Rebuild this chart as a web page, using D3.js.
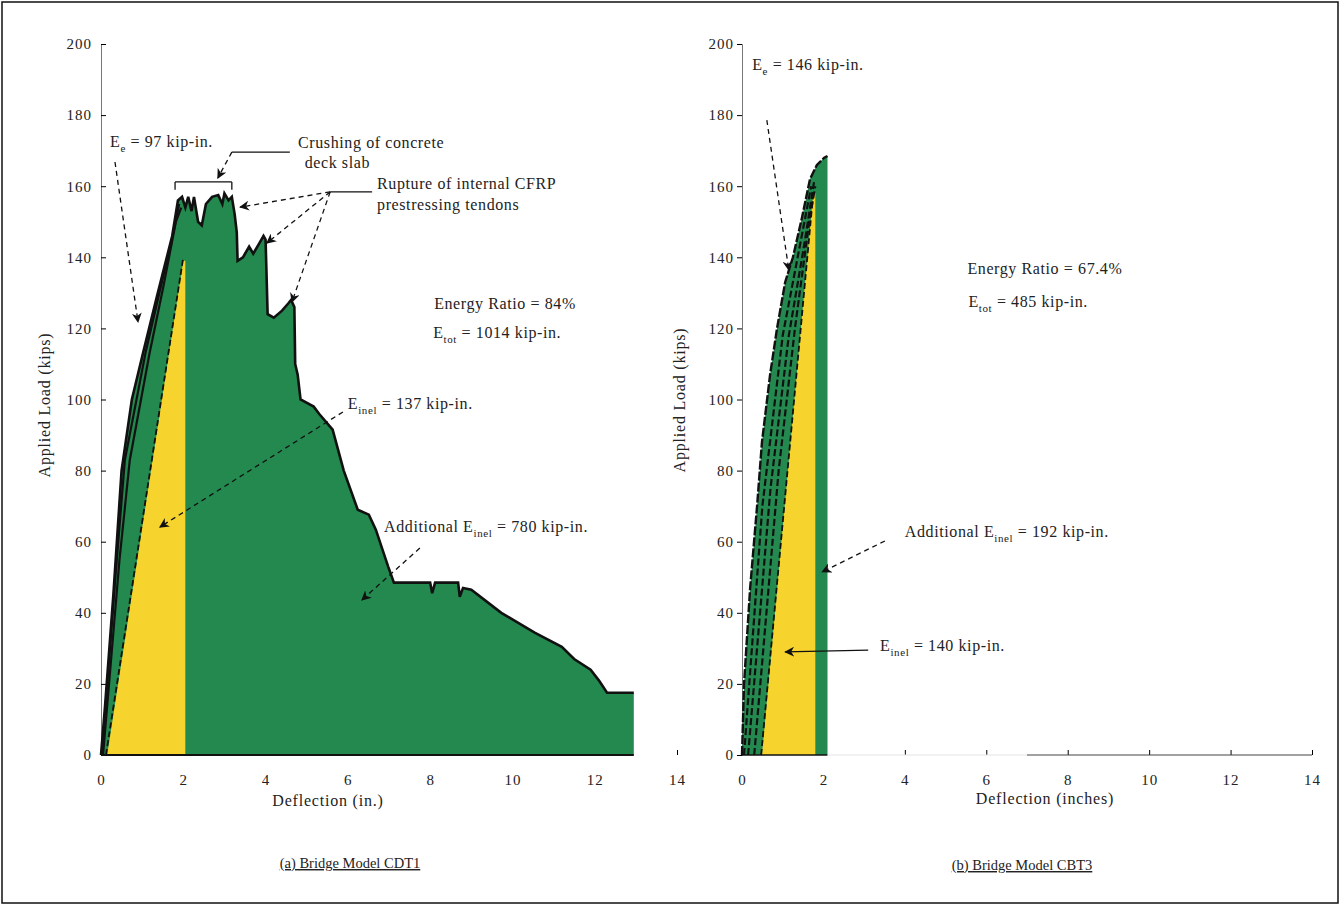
<!DOCTYPE html>
<html>
<head>
<meta charset="utf-8">
<script src="https://cdn.jsdelivr.net/npm/d3@7"></script>
<style>
  body { margin: 0; background: #fff; }
  text { font-family: "Liberation Serif", "DejaVu Serif", serif; fill: #222; }
  .tick text { font-size: 15px; letter-spacing: 1px; }
  .note { font-size: 16px; letter-spacing: 0.6px; }
  .axisText { font-size: 16px; letter-spacing: 0.8px; }
  .caption { font-size: 14.5px; }
</style>
</head>
<body>
<div id="chart"></div>
<script>
// tick values shared by both panels
var xTicks = [0, 2, 4, 6, 8, 10, 12, 14];
var yTicks = [0, 20, 40, 60, 80, 100, 120, 140, 160, 180, 200];

// (a) Bridge Model CDT1 -- [deflection (in.), load (kips)]
var cdt1Envelope = [[0, 0], [0.1, 14], [0.3, 45], [0.5, 80], [0.75, 100], [1.02, 113], [1.36, 129],
  [1.73, 146], [1.87, 156], [1.97, 157], [2.05, 154], [2.12, 157], [2.2, 153], [2.26, 157],
  [2.36, 150], [2.45, 149], [2.55, 155], [2.7, 157], [2.85, 157.5], [2.95, 155], [3.0, 158],
  [3.1, 156], [3.18, 157], [3.25, 152], [3.3, 147], [3.32, 139], [3.45, 140], [3.6, 143],
  [3.7, 141], [3.85, 144], [3.95, 146], [4.0, 145], [4.05, 124], [4.2, 123], [4.4, 125],
  [4.55, 127], [4.62, 128], [4.7, 126], [4.72, 110], [4.78, 107], [4.85, 100], [5.17, 98],
  [5.3, 96], [5.63, 91.5], [5.9, 80], [6.24, 69], [6.51, 67.6], [6.68, 63.4], [6.98, 53],
  [7.12, 48.5], [8.0, 48.5], [8.05, 45.5], [8.12, 48.5], [8.68, 48.5], [8.72, 44.5], [8.8, 47],
  [9.0, 46.5], [9.73, 40], [10.54, 34.4], [11.2, 30.4], [11.5, 27], [11.9, 24], [12.1, 21],
  [12.3, 17.5], [12.95, 17.5], [12.95, 0]];
var cdt1Yellow = [[0.15, 0], [2.0, 139], [2.05, 139], [2.05, 0]];
var cdt1Cycles = [
  [[0.02, 0], [0.35, 50], [0.58, 83], [1.08, 113], [1.42, 130], [1.78, 148], [1.9, 155]],
  [[0.05, 0], [0.45, 55], [0.7, 83], [1.18, 113], [1.52, 132], [1.82, 150], [1.95, 154]]
];
var cdt1Unload = [[0.12, 0], [2.0, 140]];

// (b) Bridge Model CBT3
var cbt3Envelope = [[0, 0], [0.05, 20], [0.2, 47], [0.37, 70], [0.49, 88], [0.69, 107], [0.86, 120],
  [1.06, 133], [1.25, 140], [1.47, 151], [1.67, 162], [1.84, 166], [2.02, 168], [2.1, 168.5], [2.1, 0]];
var cbt3Yellow = [[0.49, 0], [1.75, 158], [1.8, 158], [1.8, 0]];
var cbt3Cycles = [
  [[0.05, 0], [0.5, 70], [1.0, 118], [1.4, 142], [1.7, 160]],
  [[0.15, 0], [0.7, 75], [1.15, 118], [1.55, 145], [1.78, 162]],
  [[0.3, 0], [0.9, 80], [1.3, 120], [1.65, 150], [1.8, 160]]
];
var cbt3Unload = [[0.47, 0], [1.75, 158]];

var svgWidth = 1340;
var svgHeight = 905;
var green = "#23894f";
var yellow = "#f6d42d";

var svg = d3.select("#chart")
  .append("svg")
  .attr("width", svgWidth)
  .attr("height", svgHeight);

// scanned page frame
svg.append("rect")
  .attr("x", 2).attr("y", 2)
  .attr("width", svgWidth - 4).attr("height", svgHeight - 4)
  .attr("fill", "none")
  .attr("stroke", "#111")
  .attr("stroke-width", 1.5);

var defs = svg.append("defs");
defs.append("marker")
  .attr("id", "arrow")
  .attr("viewBox", "0 0 10 10")
  .attr("refX", 9).attr("refY", 5)
  .attr("markerWidth", 10).attr("markerHeight", 10)
  .attr("markerUnits", "userSpaceOnUse")
  .attr("orient", "auto")
  .append("path")
  .attr("d", "M0,0 L10,5 L0,10 L3,5 Z")
  .attr("fill", "#111");

// build one panel, returns its scales and group
function makePanel(x0, x1, tickSide) {
  var x = d3.scaleLinear().domain([0, 14]).range([x0, x1]);
  var y = d3.scaleLinear().domain([0, 200]).range([755, 44]);
  var g = svg.append("g");

  var yAxis = d3.axisLeft(y).tickValues(yTicks)
    .tickSize(tickSide).tickPadding(tickSide < 0 ? 9 : 3);
  var yg = g.append("g")
    .attr("transform", `translate(${x0}, 0)`)
    .call(yAxis);
  yg.select(".domain").attr("stroke", "#777");

  var xAxis = d3.axisBottom(x).tickValues(xTicks).tickSize(-5).tickPadding(19);
  var xg = g.append("g")
    .attr("transform", "translate(0, 755)")
    .call(xAxis);
  xg.select(".domain").remove();

  return { x: x, y: y, g: g };
}

function drawArea(p, pts, fill) {
  p.g.append("path")
    .datum(pts)
    .attr("d", d3.line().x(d => p.x(d[0])).y(d => p.y(d[1])))
    .attr("fill", fill)
    .attr("stroke", "none");
}

function drawLine(p, pts, width, dash) {
  p.g.append("path")
    .datum(pts)
    .attr("d", d3.line().x(d => p.x(d[0])).y(d => p.y(d[1])))
    .attr("fill", "none")
    .attr("stroke", "#111")
    .attr("stroke-width", width)
    .attr("stroke-dasharray", dash || null);
}

function arrow(p, a, b, dashed) {
  p.g.append("line")
    .attr("x1", p.x(a[0])).attr("y1", p.y(a[1]))
    .attr("x2", p.x(b[0])).attr("y2", p.y(b[1]))
    .attr("stroke", "#111")
    .attr("stroke-width", 1.3)
    .attr("stroke-dasharray", dashed ? "5,4" : null)
    .attr("marker-end", "url(#arrow)");
}

function segment(p, a, b) {
  p.g.append("line")
    .attr("x1", p.x(a[0])).attr("y1", p.y(a[1]))
    .attr("x2", p.x(b[0])).attr("y2", p.y(b[1]))
    .attr("stroke", "#111")
    .attr("stroke-width", 1.3);
}

// text with optional subscript parts: [[str, isSub, backUp], ...]
function note(p, at, parts, anchor) {
  var t = p.g.append("text")
    .attr("class", "note")
    .attr("x", p.x(at[0])).attr("y", p.y(at[1]))
    .attr("text-anchor", anchor || "start");
  parts.forEach(function(s) {
    var ts = t.append("tspan").text(s[0]);
    if (s[1]) ts.attr("font-size", "11px").attr("dy", 5);
    else if (s[2]) ts.attr("dy", -5);
  });
}

// ---------- (a) CDT1 ----------
var left = makePanel(101, 677, -5);
drawArea(left, cdt1Envelope, green);
drawArea(left, cdt1Yellow, yellow);
cdt1Cycles.forEach(c => drawLine(left, c, 2.2));
drawLine(left, cdt1Unload, 1.8, "6,3");
drawLine(left, cdt1Envelope.slice(0, -1), 2.6);
left.g.append("line")
  .attr("x1", left.x(0)).attr("x2", left.x(12.95))
  .attr("y1", 755).attr("y2", 755)
  .attr("stroke", "#111").attr("stroke-width", 2);

note(left, [0.22, 171], [["E"], ["e", true], [" = 97 kip-in.", false, true]]);
arrow(left, [0.34, 166.8], [0.9, 121.8], true);

note(left, [4.79, 170.7], [["Crushing of concrete"]]);
note(left, [4.95, 165.2], [["deck slab"]]);
segment(left, [3.18, 169.6], [4.59, 169.6]);
arrow(left, [3.18, 169.6], [2.84, 162.3], true);
segment(left, [1.8, 161.2], [3.18, 161.2]);
segment(left, [1.8, 161.2], [1.8, 159.0]);
segment(left, [3.18, 161.2], [3.18, 159.0]);

note(left, [6.71, 159.2], [["Rupture of internal CFRP"]]);
note(left, [6.71, 153.3], [["prestressing tendons"]]);
segment(left, [5.57, 158.4], [6.59, 158.4]);
arrow(left, [5.57, 158.4], [3.38, 154.1], true);
arrow(left, [5.57, 158.4], [4.03, 144], true);
arrow(left, [5.57, 158.4], [4.64, 127.4], true);

note(left, [9.82, 125.5], [["Energy Ratio = 84%"]], "middle");
note(left, [9.63, 117.3], [["E"], ["tot", true], [" = 1014 kip-in.", false, true]], "middle");

note(left, [6.0, 97.3], [["E"], ["inel", true], [" = 137 kip-in.", false, true]]);
arrow(left, [5.88, 96.5], [1.43, 64.1], true);

note(left, [6.88, 62.7], [["Additional E"], ["inel", true], [" = 780 kip-in.", false, true]]);
arrow(left, [7.75, 58.2], [6.34, 43.6], true);

// axis titles
svg.append("text")
  .attr("class", "axisText")
  .attr("transform", "rotate(-90)")
  .attr("x", -405).attr("y", 50)
  .attr("text-anchor", "middle")
  .text("Applied Load (kips)");
svg.append("text")
  .attr("class", "axisText")
  .attr("x", 328).attr("y", 806)
  .attr("text-anchor", "middle")
  .text("Deflection (in.)");
svg.append("text")
  .attr("class", "caption")
  .attr("x", 350).attr("y", 868)
  .attr("text-anchor", "middle")
  .attr("text-decoration", "underline")
  .text("(a) Bridge Model CDT1");

// ---------- (b) CBT3 ----------
var right = makePanel(742, 1312, 5);
drawArea(right, cbt3Envelope, green);
drawArea(right, cbt3Yellow, yellow);
cbt3Cycles.forEach(c => drawLine(right, c, 2.2, "7,3"));
drawLine(right, cbt3Unload, 1.8, "6,3");
drawLine(right, cbt3Envelope.slice(0, -1), 2.4, "9,2");

// x axis line (faded in the middle on the scan)
right.g.append("line")
  .attr("x1", right.x(0)).attr("x2", right.x(2.1))
  .attr("y1", 755).attr("y2", 755)
  .attr("stroke", "#111").attr("stroke-width", 1.5);
right.g.append("line")
  .attr("x1", right.x(2.1)).attr("x2", right.x(7))
  .attr("y1", 755).attr("y2", 755)
  .attr("stroke", "#e4e4e4").attr("stroke-width", 1);
right.g.append("line")
  .attr("x1", right.x(7)).attr("x2", right.x(14))
  .attr("y1", 755).attr("y2", 755)
  .attr("stroke", "#444").attr("stroke-width", 1.2);

note(right, [0.25, 192.7], [["E"], ["e", true], [" = 146 kip-in.", false, true]]);
arrow(right, [0.61, 178.6], [1.15, 136.4], true);

note(right, [7.44, 135.3], [["Energy Ratio = 67.4%"]], "middle");
note(right, [7.03, 126], [["E"], ["tot", true], [" = 485 kip-in.", false, true]], "middle");

note(right, [4.0, 61.3], [["Additional E"], ["inel", true], [" = 192 kip-in.", false, true]]);
arrow(right, [3.51, 60.2], [1.97, 51.5], true);

note(right, [3.39, 29.3], [["E"], ["inel", true], [" = 140 kip-in.", false, true]]);
arrow(right, [3.1, 29.5], [1.06, 29], false);

svg.append("text")
  .attr("class", "axisText")
  .attr("transform", "rotate(-90)")
  .attr("x", -400).attr("y", 685)
  .attr("text-anchor", "middle")
  .text("Applied Load (kips)");
svg.append("text")
  .attr("class", "axisText")
  .attr("x", 1045).attr("y", 804)
  .attr("text-anchor", "middle")
  .text("Deflection (inches)");
svg.append("text")
  .attr("class", "caption")
  .attr("x", 1022).attr("y", 870)
  .attr("text-anchor", "middle")
  .attr("text-decoration", "underline")
  .text("(b) Bridge Model CBT3");
</script>
</body>
</html>
